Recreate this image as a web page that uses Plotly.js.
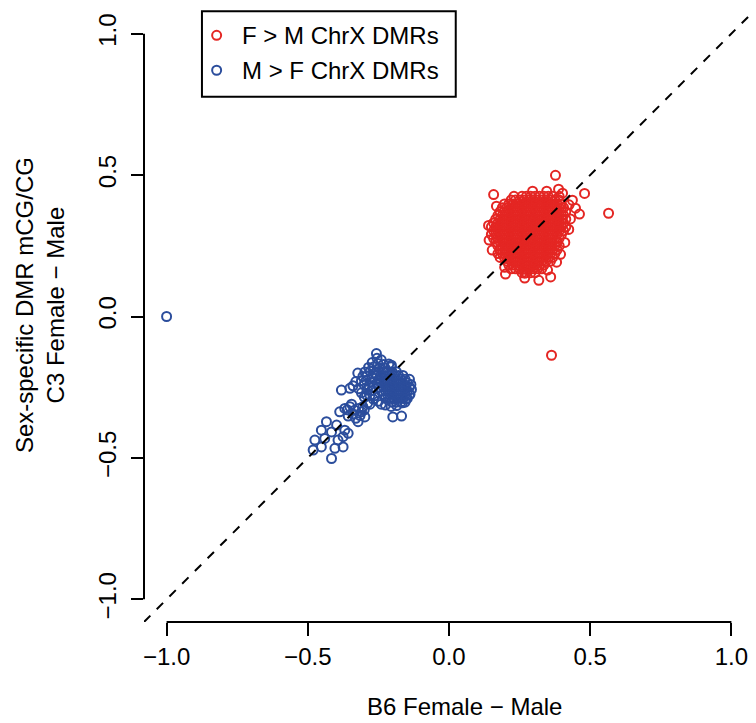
<!DOCTYPE html>
<html>
<head>
<meta charset="utf-8">
<script src="https://cdn.plot.ly/plotly-3.0.1.min.js"></script>
<style>
  html, body { margin: 0; padding: 0; background: #ffffff; }
  #chart { width: 756px; height: 723px; }
</style>
</head>
<body>
<div id="chart"></div>
<script>
// Sex-specific ChrX DMRs: B6 (x) vs C3 (y) female minus male mCG/CG difference

const seriesNames = ["F > M ChrX DMRs", "M > F ChrX DMRs"];
const seriesColors = ["#E42623", "#2B4D9C"];

// F > M ChrX DMRs
const fmX = [
  0.2585, 0.274, 0.2895, 0.305, 0.3205, 0.336, 0.3515, 0.367,
  0.2198, 0.2353, 0.2508, 0.2663, 0.2818, 0.2973, 0.3128, 0.3283, 0.3438, 0.3593, 0.3748, 0.3903,
  0.1965, 0.212, 0.2275, 0.243, 0.2585, 0.274, 0.2895, 0.305, 0.3205, 0.336, 0.3515, 0.367, 0.3825, 0.398,
  0.1888, 0.2043, 0.2198, 0.2353, 0.2508, 0.2663, 0.2818, 0.2973, 0.3128, 0.3283, 0.3438, 0.3593, 0.3748, 0.3903, 0.4058,
  0.181, 0.1965, 0.212, 0.2275, 0.243, 0.2585, 0.274, 0.2895, 0.305, 0.3205, 0.336, 0.3515, 0.367, 0.3825, 0.398, 0.4135,
  0.1733, 0.1888, 0.2043, 0.2198, 0.2353, 0.2508, 0.2663, 0.2818, 0.2973, 0.3128, 0.3283, 0.3438, 0.3593, 0.3748, 0.3903, 0.4058,
  0.1655, 0.181, 0.1965, 0.212, 0.2275, 0.243, 0.2585, 0.274, 0.2895, 0.305, 0.3205, 0.336, 0.3515, 0.367, 0.3825, 0.398, 0.4135,
  0.1578, 0.1733, 0.1888, 0.2043, 0.2198, 0.2353, 0.2508, 0.2663, 0.2818, 0.2973, 0.3128, 0.3283, 0.3438, 0.3593, 0.3748, 0.3903, 0.4058,
  0.150, 0.1655, 0.181, 0.1965, 0.212, 0.2275, 0.243, 0.2585, 0.274, 0.2895, 0.305, 0.3205, 0.336, 0.3515, 0.367, 0.3825, 0.398, 0.4135,
  0.1578, 0.1733, 0.1888, 0.2043, 0.2198, 0.2353, 0.2508, 0.2663, 0.2818, 0.2973, 0.3128, 0.3283, 0.3438, 0.3593, 0.3748, 0.3903, 0.4058,
  0.150, 0.1655, 0.181, 0.1965, 0.212, 0.2275, 0.243, 0.2585, 0.274, 0.2895, 0.305, 0.3205, 0.336, 0.3515, 0.367, 0.3825, 0.398,
  0.1578, 0.1733, 0.1888, 0.2043, 0.2198, 0.2353, 0.2508, 0.2663, 0.2818, 0.2973, 0.3128, 0.3283, 0.3438, 0.3593, 0.3748, 0.3903,
  0.1655, 0.181, 0.1965, 0.212, 0.2275, 0.243, 0.2585, 0.274, 0.2895, 0.305, 0.3205, 0.336, 0.3515, 0.367, 0.3825,
  0.1733, 0.1888, 0.2043, 0.2198, 0.2353, 0.2508, 0.2663, 0.2818, 0.2973, 0.3128, 0.3283, 0.3438, 0.3593, 0.3748, 0.3903,
  0.181, 0.1965, 0.212, 0.2275, 0.243, 0.2585, 0.274, 0.2895, 0.305, 0.3205, 0.336, 0.3515, 0.367, 0.3825,
  0.1733, 0.1888, 0.2043, 0.2198, 0.2353, 0.2508, 0.2663, 0.2818, 0.2973, 0.3128, 0.3283, 0.3438, 0.3593, 0.3748,
  0.181, 0.1965, 0.212, 0.2275, 0.243, 0.2585, 0.274, 0.2895, 0.305, 0.3205, 0.336, 0.3515, 0.367,
  0.2043, 0.2198, 0.2353, 0.2508, 0.2663, 0.2818, 0.2973, 0.3128, 0.3283, 0.3438, 0.3593,
  0.212, 0.2275, 0.243, 0.2585, 0.274, 0.2895, 0.305, 0.3205, 0.336,
  0.2198, 0.2353, 0.2508, 0.2663, 0.2818, 0.2973, 0.3128, 0.3283,
  0.2585, 0.274, 0.2895, 0.305,
  0.230, 0.390, 0.168, 0.425, 0.430, 0.395, 0.200, 0.360,
  0.377, 0.158, 0.480, 0.565, 0.462, 0.448, 0.437, 0.402, 0.388, 0.346, 0.296, 0.318,
  0.349, 0.381, 0.268, 0.268, 0.197, 0.140, 0.142, 0.153, 0.424, 0.410, 0.363
];
const fmY = [
  0.425, 0.425, 0.425, 0.425, 0.425, 0.425, 0.425, 0.425,
  0.4115, 0.4115, 0.4115, 0.4115, 0.4115, 0.4115, 0.4115, 0.4115, 0.4115, 0.4115, 0.4115, 0.4115,
  0.398, 0.398, 0.398, 0.398, 0.398, 0.398, 0.398, 0.398, 0.398, 0.398, 0.398, 0.398, 0.398, 0.398,
  0.3845, 0.3845, 0.3845, 0.3845, 0.3845, 0.3845, 0.3845, 0.3845, 0.3845, 0.3845, 0.3845, 0.3845, 0.3845, 0.3845, 0.3845,
  0.371, 0.371, 0.371, 0.371, 0.371, 0.371, 0.371, 0.371, 0.371, 0.371, 0.371, 0.371, 0.371, 0.371, 0.371, 0.371,
  0.3575, 0.3575, 0.3575, 0.3575, 0.3575, 0.3575, 0.3575, 0.3575, 0.3575, 0.3575, 0.3575, 0.3575, 0.3575, 0.3575, 0.3575, 0.3575,
  0.344, 0.344, 0.344, 0.344, 0.344, 0.344, 0.344, 0.344, 0.344, 0.344, 0.344, 0.344, 0.344, 0.344, 0.344, 0.344, 0.344,
  0.3305, 0.3305, 0.3305, 0.3305, 0.3305, 0.3305, 0.3305, 0.3305, 0.3305, 0.3305, 0.3305, 0.3305, 0.3305, 0.3305, 0.3305, 0.3305, 0.3305,
  0.317, 0.317, 0.317, 0.317, 0.317, 0.317, 0.317, 0.317, 0.317, 0.317, 0.317, 0.317, 0.317, 0.317, 0.317, 0.317, 0.317, 0.317,
  0.3035, 0.3035, 0.3035, 0.3035, 0.3035, 0.3035, 0.3035, 0.3035, 0.3035, 0.3035, 0.3035, 0.3035, 0.3035, 0.3035, 0.3035, 0.3035, 0.3035,
  0.290, 0.290, 0.290, 0.290, 0.290, 0.290, 0.290, 0.290, 0.290, 0.290, 0.290, 0.290, 0.290, 0.290, 0.290, 0.290, 0.290,
  0.2765, 0.2765, 0.2765, 0.2765, 0.2765, 0.2765, 0.2765, 0.2765, 0.2765, 0.2765, 0.2765, 0.2765, 0.2765, 0.2765, 0.2765, 0.2765,
  0.263, 0.263, 0.263, 0.263, 0.263, 0.263, 0.263, 0.263, 0.263, 0.263, 0.263, 0.263, 0.263, 0.263, 0.263,
  0.2495, 0.2495, 0.2495, 0.2495, 0.2495, 0.2495, 0.2495, 0.2495, 0.2495, 0.2495, 0.2495, 0.2495, 0.2495, 0.2495, 0.2495,
  0.236, 0.236, 0.236, 0.236, 0.236, 0.236, 0.236, 0.236, 0.236, 0.236, 0.236, 0.236, 0.236, 0.236,
  0.2225, 0.2225, 0.2225, 0.2225, 0.2225, 0.2225, 0.2225, 0.2225, 0.2225, 0.2225, 0.2225, 0.2225, 0.2225, 0.2225,
  0.209, 0.209, 0.209, 0.209, 0.209, 0.209, 0.209, 0.209, 0.209, 0.209, 0.209, 0.209, 0.209,
  0.1955, 0.1955, 0.1955, 0.1955, 0.1955, 0.1955, 0.1955, 0.1955, 0.1955, 0.1955, 0.1955,
  0.182, 0.182, 0.182, 0.182, 0.182, 0.182, 0.182, 0.182, 0.182,
  0.1685, 0.1685, 0.1685, 0.1685, 0.1685, 0.1685, 0.1685, 0.1685,
  0.155, 0.155, 0.155, 0.155,
  0.425, 0.425, 0.390, 0.395, 0.345, 0.220, 0.150, 0.140,
  0.499, 0.431, 0.435, 0.365, 0.362, 0.383, 0.411, 0.436, 0.450, 0.443, 0.443, 0.128,
  0.164, 0.192, 0.153, 0.136, 0.174, 0.322, 0.270, 0.235, 0.308, 0.262, -0.137
];

// M > F ChrX DMRs
const mfX = [
  -0.1865, -0.202, -0.2175, -0.233, -0.2485,
  -0.1633, -0.1788, -0.1943, -0.2098, -0.2253, -0.2408, -0.2563,
  -0.140, -0.1555, -0.171, -0.1865, -0.202, -0.2175, -0.233, -0.2485,
  -0.1478, -0.1633, -0.1788, -0.1943, -0.2098, -0.2253, -0.2408, -0.2563,
  -0.140, -0.1555, -0.171, -0.1865, -0.202, -0.2175, -0.233, -0.2485,
  -0.1478, -0.1633, -0.1788, -0.1943, -0.2098, -0.2253, -0.2408,
  -0.140, -0.1555, -0.171, -0.1865, -0.202, -0.2175, -0.233,
  -0.1478, -0.1633, -0.1788, -0.1943, -0.2098, -0.2253,
  -0.1555, -0.171, -0.1865, -0.202,
  -0.257, -0.255, -0.240, -0.272, -0.252, -0.232, -0.213, -0.285, -0.266, -0.246, -0.227, -0.205,
  -0.298, -0.279, -0.262, -0.305, -0.290, -0.272, -0.310, -0.293, -0.275, -0.300, -0.283, -0.268,
  -0.290, -0.272, -0.280, -0.262, -0.268, -0.250, -0.240, -0.225, -0.205, -0.185, -0.165,
  -0.135, -0.133, -0.138, -0.152,
  -0.381, -0.351, -0.323, -0.330, -0.340, -0.320, -0.310, -0.300, -0.204,
  -0.199, -0.168,
  -0.387, -0.369, -0.351, -0.334, -0.310, -0.298, -0.322, -0.357, -0.305, -0.288, -0.292,
  -0.360, -0.340, -0.320, -0.315, -0.330, -0.345, -0.300, -0.280,
  -0.434, -0.452, -0.416, -0.475, -0.440, -0.393, -0.375, -0.404, -0.452, -0.416, -0.481,
  -0.369, -0.398, -0.357, -0.375,
  -1.000
];
const mfY = [
  -0.195, -0.195, -0.195, -0.195, -0.195,
  -0.2085, -0.2085, -0.2085, -0.2085, -0.2085, -0.2085, -0.2085,
  -0.222, -0.222, -0.222, -0.222, -0.222, -0.222, -0.222, -0.222,
  -0.2355, -0.2355, -0.2355, -0.2355, -0.2355, -0.2355, -0.2355, -0.2355,
  -0.249, -0.249, -0.249, -0.249, -0.249, -0.249, -0.249, -0.249,
  -0.2625, -0.2625, -0.2625, -0.2625, -0.2625, -0.2625, -0.2625,
  -0.276, -0.276, -0.276, -0.276, -0.276, -0.276, -0.276,
  -0.2895, -0.2895, -0.2895, -0.2895, -0.2895, -0.2895,
  -0.303, -0.303, -0.303, -0.303,
  -0.131, -0.148, -0.153, -0.163, -0.166, -0.170, -0.168, -0.180, -0.178, -0.183, -0.182, -0.178,
  -0.196, -0.193, -0.200, -0.212, -0.210, -0.215, -0.227, -0.225, -0.232, -0.242, -0.245, -0.250,
  -0.260, -0.262, -0.278, -0.280, -0.292, -0.300, -0.310, -0.313, -0.318, -0.315, -0.305,
  -0.240, -0.258, -0.275, -0.292,
  -0.260, -0.254, -0.200, -0.230, -0.245, -0.255, -0.270, -0.285, -0.172,
  -0.355, -0.352,
  -0.337, -0.325, -0.319, -0.331, -0.337, -0.355, -0.372, -0.352, -0.319, -0.306, -0.278,
  -0.330, -0.345, -0.325, -0.350, -0.360, -0.310, -0.330, -0.310,
  -0.372, -0.402, -0.408, -0.437, -0.431, -0.437, -0.461, -0.466, -0.461, -0.502, -0.472,
  -0.402, -0.384, -0.413, -0.425,
  0.000
];

const tickValues = [-1, -0.5, 0, 0.5, 1];
const tickLabels = ["\u22121.0", "\u22120.5", "0.0", "0.5", "1.0"];
const xTitle = "B6 Female \u2212 Male";
const yTitleLines = ["Sex-specific DMR mCG/CG", "C3 Female \u2212 Male"];

const FONT = "Liberation Sans, Arial, Helvetica, sans-serif";
const FS = 24;

// plot area in pixels
const W = 756, H = 723;
const M = { l: 144, r: 1.5, t: 10.7, b: 100.7 };
const PW = W - M.l - M.r, PH = H - M.t - M.b;
const px2paperX = px => (px - M.l) / PW;
const py2paperY = py => (H - M.b - py) / PH;

function ringTrace(x, y, color, name) {
  return {
    type: "scatter", mode: "markers", x: x, y: y, name: name,
    showlegend: false, hoverinfo: "skip",
    marker: { symbol: "circle-open", size: 9, color: color, line: { width: 2, color: color } }
  };
}

const traces = [
  ringTrace(fmX, fmY, seriesColors[0], seriesNames[0]),
  ringTrace(mfX, mfY, seriesColors[1], seriesNames[1])
];

const axisCommon = {
  range: [-1.08, 1.08], tickvals: tickValues, ticktext: tickLabels,
  ticks: "outside", tickwidth: 2, tickcolor: "#000",
  showgrid: false, zeroline: false, showline: false,
  tickfont: { family: FONT, size: FS, color: "#000" }
};

// legend geometry (pixels)
const legBox = { x0: 202, x1: 456, y0: 11, y1: 96.5 };
const legRows = [35, 70];
const legMarkX = 216.7, legTextX = 240;

const shapes = [
  // reference line y = x
  { type: "line", xref: "x", yref: "y", x0: -1.08, y0: -1.08, x1: 1.08, y1: 1.08,
    line: { color: "#000", width: 2, dash: "9px,9px" }, layer: "above" },
  // axis lines spanning first to last tick
  { type: "line", xref: "x", yref: "paper", x0: -1, x1: 1, y0: 0, y1: 0,
    line: { color: "#000", width: 2 } },
  { type: "line", xref: "paper", yref: "y", x0: 0, x1: 0, y0: -1, y1: 1,
    line: { color: "#000", width: 2 } },
  // legend box
  { type: "rect", xref: "paper", yref: "paper",
    x0: px2paperX(legBox.x0), x1: px2paperX(legBox.x1),
    y0: py2paperY(legBox.y1), y1: py2paperY(legBox.y0),
    line: { color: "#000", width: 2 }, fillcolor: "#fff", layer: "above" }
];
legRows.forEach((py, i) => {
  shapes.push({
    type: "circle", xref: "paper", yref: "paper",
    xsizemode: "pixel", ysizemode: "pixel",
    xanchor: px2paperX(legMarkX), yanchor: py2paperY(py),
    x0: -4.5, x1: 4.5, y0: -4.5, y1: 4.5,
    line: { color: seriesColors[i], width: 2 }, layer: "above"
  });
});

const annotations = [
  { text: xTitle, xref: "paper", yref: "paper", x: px2paperX(465), y: py2paperY(707),
    xanchor: "center", yanchor: "middle", showarrow: false,
    font: { family: FONT, size: FS, color: "#000" } },
  { text: yTitleLines.join("<br>"), xref: "paper", yref: "paper", x: px2paperX(40), y: py2paperY(305),
    xanchor: "center", yanchor: "middle", showarrow: false, textangle: -90,
    font: { family: FONT, size: FS, color: "#000" } }
];
legRows.forEach((py, i) => {
  annotations.push({
    text: seriesNames[i], xref: "paper", yref: "paper",
    x: px2paperX(legTextX), y: py2paperY(py),
    xanchor: "left", yanchor: "middle", showarrow: false,
    font: { family: FONT, size: FS, color: "#000" }
  });
});

const layout = {
  width: W, height: H,
  margin: { l: M.l, r: M.r, t: M.t, b: M.b, pad: 0 },
  paper_bgcolor: "#fff", plot_bgcolor: "#fff",
  showlegend: false,
  xaxis: Object.assign({}, axisCommon, { ticklen: 13 }),
  yaxis: Object.assign({}, axisCommon, { ticklen: 12, tickangle: -90, ticklabelstandoff: 5 }),
  shapes: shapes,
  annotations: annotations
};

Plotly.newPlot("chart", traces, layout, { displayModeBar: false, staticPlot: true });
</script>
</body>
</html>
